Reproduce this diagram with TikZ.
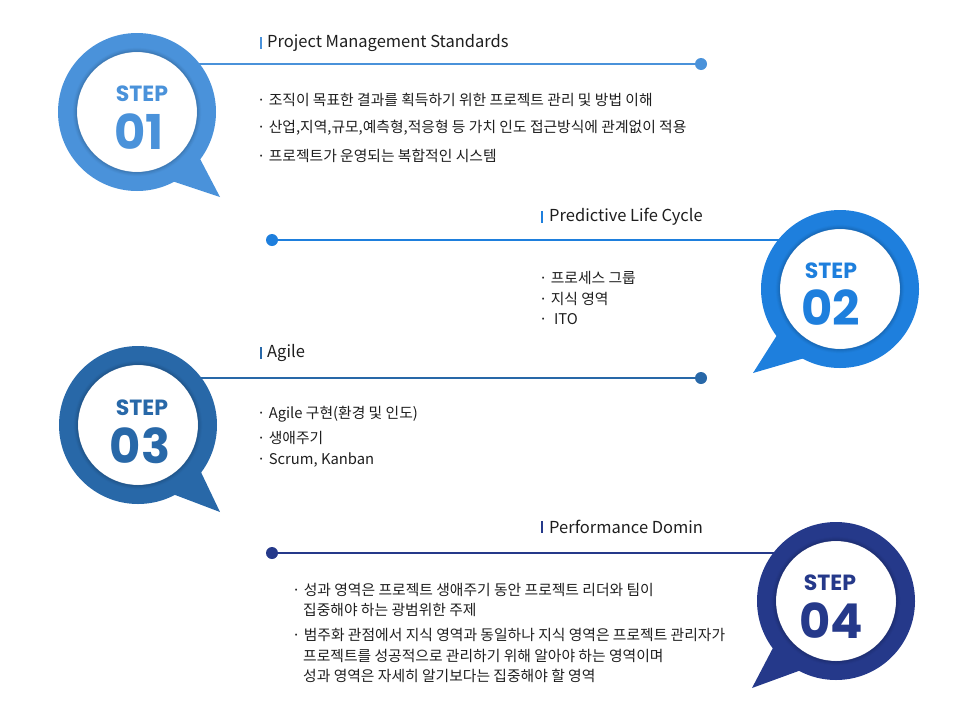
\documentclass[tikz,border=0pt]{standalone}
\usepackage{fontspec}
\setmainfont{Noto Sans CJK KR}
\newfontfamily\stepfont{Poppins}
\usetikzlibrary{backgrounds}
\definecolor{cA}{RGB}{74,146,218}
\definecolor{cB}{RGB}{30,127,221}
\definecolor{cC}{RGB}{40,104,168}
\definecolor{cD}{RGB}{37,57,138}
\definecolor{txt}{RGB}{30,30,30}
\begin{document}
\begin{tikzpicture}[x=1pt,y=-1pt,
  ring/.style={circle,inner sep=0pt,outer sep=0pt,minimum size=158pt,fill=#1},
  hole/.style={circle,inner sep=0pt,outer sep=0pt,minimum size=120pt,fill=white},
  steplbl/.style={text=#1,font=\stepfont\bfseries\fontsize{22}{22}\selectfont,inner sep=0pt},
  numlbl/.style={text=#1,font=\stepfont\bfseries\fontsize{48}{48}\selectfont,inner sep=0pt},
  dotnode/.style={circle,fill=#1,inner sep=0pt,outer sep=0pt,minimum size=12pt},
  tbar/.style={fill=#1,inner sep=0pt,minimum width=2pt,minimum height=12pt},
  ttl/.style={anchor=west,inner sep=0pt,text=txt,font=\fontsize{16.5}{17}\selectfont},
  bul/.style={anchor=west,inner sep=0pt,text=txt,font=\fontsize{14.8}{15}\selectfont},
  conn/.style={draw=#1,line width=1.3pt},
  tail/.style={fill=#1},
  shade/.style={draw=#1,line width=1.2pt}]
\useasboundingbox (0,0) rectangle (966,718);

% ---------- STEP 01 ----------
\node[ring=cA] (s1) at (137,112) {};
\coordinate (t1) at (220,197);
\fill[tail=cA] (198,155) -- (t1) -- (169,180) -- cycle;
\node[hole] (h1) at (s1) {};
\foreach \r/\o in {60.5/0.35,61.5/0.22,62.5/0.12,63.5/0.06}
  \draw[shade=cA!60!black,opacity=\o] (s1) circle[radius=\r pt];
\node[steplbl=cA] (l1) at (142,94) {STEP};
\node[numlbl=cA] (n1) at (139,132) {01};
\node[dotnode=cA] (d1) at (701,64) {};
\node[tbar=cA] (b1) at (260.5,43) {};
\node[ttl] (tt1) at (267,43) {Project Management Standards};
\node[bul] (p11) at (257,100) {· 조직이 목표한 결과를 획득하기 위한 프로젝트 관리 및 방법 이해};
\node[bul] (p12) at (257,128) {· 산업,지역,규모,예측형,적응형 등 가치 인도 접근방식에 관계없이 적용};
\node[bul] (p13) at (257,156) {· 프로젝트가 운영되는 복합적인 시스템};

% ---------- STEP 02 ----------
\node[ring=cB] (s2) at (840,289) {};
\coordinate (t2) at (753,373);
\fill[tail=cB] (779,332) -- (t2) -- (808,357) -- cycle;
\node[hole] (h2) at (s2) {};
\foreach \r/\o in {60.5/0.35,61.5/0.22,62.5/0.12,63.5/0.06}
  \draw[shade=cB!60!black,opacity=\o] (s2) circle[radius=\r pt];
\node[steplbl=cB] (l2) at (831,271) {STEP};
\node[numlbl=cB] (n2) at (831,308) {02};
\node[dotnode=cB] (d2) at (272,240) {};
\node[tbar=cB] (b2) at (542,217) {};
\node[ttl] (tt2) at (549,217) {Predictive Life Cycle};
\node[bul] (p21) at (539,278) {· 프로세스 그룹};
\node[bul] (p22) at (539,299) {· 지식 영역};
\node[bul] (p23) at (539,319) {·\ \ ITO};

% ---------- STEP 03 ----------
\node[ring=cC] (s3) at (138,425) {};
\coordinate (t3) at (220,512);
\fill[tail=cC] (199,468) -- (t3) -- (170,493) -- cycle;
\node[hole] (h3) at (s3) {};
\foreach \r/\o in {60.5/0.35,61.5/0.22,62.5/0.12,63.5/0.06}
  \draw[shade=cC!60!black,opacity=\o] (s3) circle[radius=\r pt];
\node[steplbl=cC] (l3) at (142,408) {STEP};
\node[numlbl=cC] (n3) at (140,446) {03};
\node[dotnode=cC] (d3) at (701,378) {};
\node[tbar=cC] (b3) at (260.5,353) {};
\node[ttl] (tt3) at (267,353) {Agile};
\node[bul] (p31) at (257,414) {· Agile 구현(환경 및 인도)};
\node[bul] (p32) at (257,438) {· 생애주기};
\node[bul] (p33) at (257,460) {· Scrum, Kanban};

% ---------- STEP 04 ----------
\node[ring=cD] (s4) at (836,601) {};
\coordinate (t4) at (752,688);
\fill[tail=cD] (775,644) -- (t4) -- (804,669) -- cycle;
\node[hole] (h4) at (s4) {};
\foreach \r/\o in {60.5/0.35,61.5/0.22,62.5/0.12,63.5/0.06}
  \draw[shade=cD!60!black,opacity=\o] (s4) circle[radius=\r pt];
\node[steplbl=cD] (l4) at (830,583) {STEP};
\node[numlbl=cD] (n4) at (831,621) {04};
\node[dotnode=cD] (d4) at (272,553) {};
\node[tbar=cD] (b4) at (542,527) {};
\node[ttl] (tt4) at (549,527) {Performance Domin};
\node[bul] (p41) at (292,590) {· 성과 영역은 프로젝트 생애주기 동안 프로젝트 리더와 팀이};
\node[bul] (p42) at (303,610) {집중해야 하는 광범위한 주제};
\node[bul] (p43) at (292,635) {· 범주화 관점에서 지식 영역과 동일하나 지식 영역은 프로젝트 관리자가};
\node[bul] (p44) at (303,656) {프로젝트를 성공적으로 관리하기 위해 알아야 하는 영역이며};
\node[bul] (p45) at (303,676) {성과 영역은 자세히 알기보다는 집중해야 할 영역};

% ---------- connectors ----------
\begin{scope}[on background layer]
\draw[conn=cA] (d1) -- (d1 -| s1);
\draw[conn=cB] (d2) -- (d2 -| s2);
\draw[conn=cC] (d3) -- (d3 -| s3);
\draw[conn=cD] (d4) -- (d4 -| s4);
\end{scope}
\end{tikzpicture}
\end{document}
